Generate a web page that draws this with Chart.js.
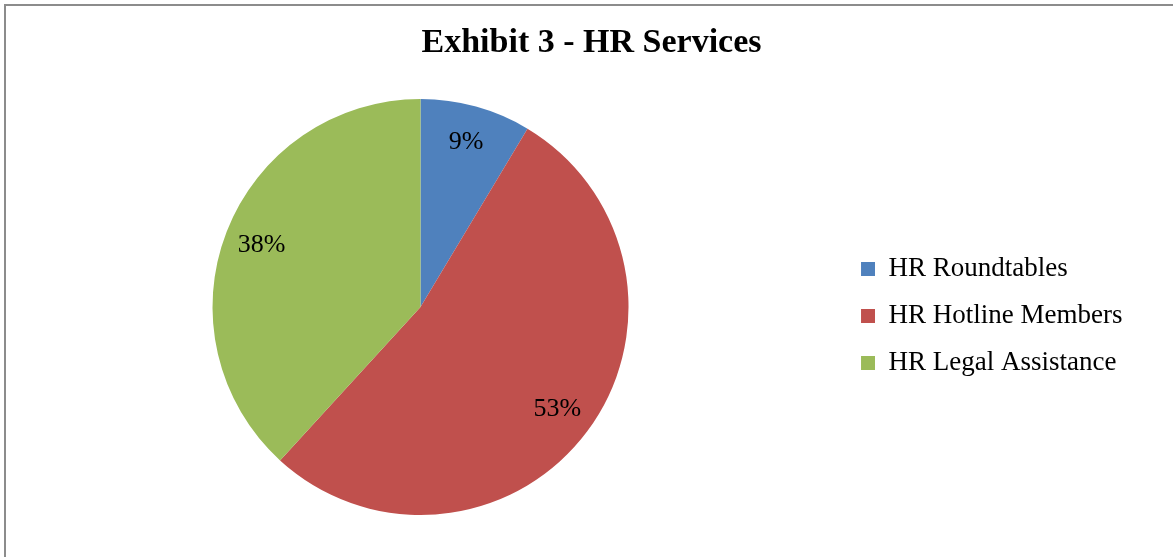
<!DOCTYPE html>
<html>
<head>
<meta charset="utf-8">
<title>Exhibit 3 - HR Services</title>
<script src="https://cdn.jsdelivr.net/npm/chart.js@4.4.1/dist/chart.umd.min.js"></script>
<style>
  html, body { margin: 0; padding: 0; background: #fff; }
  #wrap { position: relative; width: 1173px; height: 557px; overflow: hidden; }
  #frame {
    position: absolute; left: 4px; top: 4px; width: 1200px; height: 600px;
    border-top: 2px solid #8c8c8c; border-left: 2px solid #8c8c8c;
    pointer-events: none;
  }
  canvas { position: absolute; left: 0; top: 0; }
</style>
</head>
<body>
<div id="wrap">
  <canvas id="hrChart" width="1173" height="557"></canvas>
  <div id="frame"></div>
</div>
<script>
const chartTitle = 'Exhibit 3 - HR Services';
const services = ['HR Roundtables', 'HR Hotline Members', 'HR Legal Assistance'];
const shares = [8.6, 53.2, 38.2];
const sliceColors = ['#4F81BD', '#C0504D', '#9BBB59'];

const serif = "'Liberation Serif', 'Times New Roman', serif";

// Percent labels inside each slice
const sliceLabels = {
    id: 'sliceLabels',
    afterDatasetsDraw(chart) {
        const ctx = chart.ctx;
        const meta = chart.getDatasetMeta(0);
        const values = chart.data.datasets[0].data;
        const total = values.reduce((a, b) => a + b, 0);
        ctx.save();
        ctx.font = '26px ' + serif;
        ctx.fillStyle = '#000';
        ctx.textAlign = 'center';
        ctx.textBaseline = 'middle';
        meta.data.forEach((arc, i) => {
            const p = arc.getProps(['x', 'y', 'startAngle', 'endAngle', 'outerRadius'], true);
            const mid = (p.startAngle + p.endAngle) / 2;
            const r = p.outerRadius * 0.82;
            const text = Math.round(values[i] / total * 100) + '%';
            ctx.fillText(text, p.x + Math.cos(mid) * r, p.y + Math.sin(mid) * r);
        });
        ctx.restore();
    }
};

// Give the legend extra room on the right so the pie sits further left (like afterFit on a scale)
const widenLegend = {
    id: 'widenLegend',
    beforeLayout(chart) {
        const legend = chart.legend;
        if (legend && !legend._widened) {
            const fit = legend.fit.bind(legend);
            legend.fit = function () {
                fit();
                this.width += 50.5;
            };
            legend._widened = true;
        }
    }
};

const ctx = document.getElementById('hrChart').getContext('2d');
new Chart(ctx, {
    type: 'pie',
    data: {
        labels: services,
        datasets: [{
            data: shares,
            backgroundColor: sliceColors,
            borderWidth: 0
        }]
    },
    options: {
        responsive: false,
        animation: false,
        layout: {
            padding: { left: 0, right: -10, top: 0, bottom: 42 }
        },
        plugins: {
            title: {
                display: true,
                text: chartTitle,
                color: '#000',
                font: { family: serif, size: 34, weight: 'bold' },
                padding: { top: 23, bottom: 35.2 }
            },
            legend: {
                position: 'right',
                fullSize: false,
                title: { display: true, text: ' ', font: { size: 10 }, padding: 3 },
                labels: {
                    color: '#000',
                    font: { family: serif, size: 27 },
                    boxWidth: 14,
                    boxHeight: 14,
                    padding: 20
                }
            },
            tooltip: { enabled: false }
        }
    },
    plugins: [widenLegend, sliceLabels]
});
</script>
</body>
</html>
